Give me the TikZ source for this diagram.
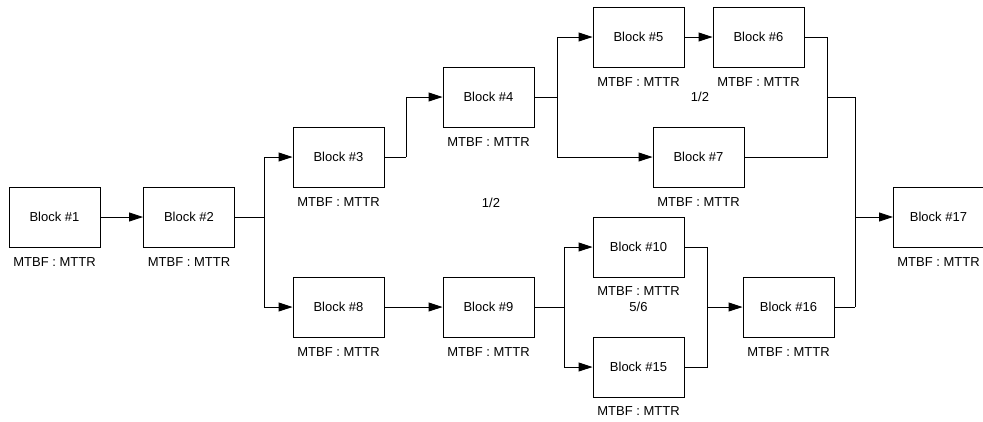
\documentclass[tikz,border=0pt]{standalone}
\usepackage{fontspec}
\setmainfont{Liberation Sans}
\usetikzlibrary{arrows.meta}
\begin{document}
\begin{tikzpicture}[x=1pt,y=-1pt,
  blk/.style={draw,line width=0.9pt,minimum width=91pt,minimum height=60pt,inner sep=0pt,font=\fontsize{13}{15}\selectfont},
  lbl/.style={inner sep=0pt,font=\fontsize{13}{15}\selectfont},
  wire/.style={line width=0.9pt},
  arr/.style={line width=0.9pt,-{Triangle[length=14pt,width=9pt]}}]
\useasboundingbox (0,0) rectangle (983,421);
\clip (0,0) rectangle (983,421);
% blocks
\node[blk] (b1) at (54.5,217) {Block \#1};
\node[blk] (b2) at (189,217) {Block \#2};
\node[blk] (b3) at (338.5,157) {Block \#3};
\node[blk] (b4) at (488.5,97) {Block \#4};
\node[blk] (b5) at (638.5,37) {Block \#5};
\node[blk] (b6) at (758.5,37) {Block \#6};
\node[blk] (b7) at (698.5,157) {Block \#7};
\node[blk] (b8) at (338.5,307) {Block \#8};
\node[blk] (b9) at (488.5,307) {Block \#9};
\node[blk] (b10) at (638.5,247) {Block \#10};
\node[blk] (b15) at (638.5,367) {Block \#15};
\node[blk] (b16) at (788.5,307) {Block \#16};
\node[blk,minimum width=110pt,anchor=west] (b17) at (893,217) {Block \#17\kern20pt};
% labels
\node[lbl] (m1) at (54.5,262) {MTBF : MTTR};
\node[lbl] (m2) at (189,262) {MTBF : MTTR};
\node[lbl] (m3) at (338.5,202) {MTBF : MTTR};
\node[lbl] (m4) at (488.5,142) {MTBF : MTTR};
\node[lbl] (m5) at (638.5,82) {MTBF : MTTR};
\node[lbl] (m6) at (758.5,82) {MTBF : MTTR};
\node[lbl] (m7) at (698.5,202) {MTBF : MTTR};
\node[lbl] (m8) at (338.5,352) {MTBF : MTTR};
\node[lbl] (m9) at (488.5,352) {MTBF : MTTR};
\node[lbl] (m10) at (638.5,291) {MTBF : MTTR};
\node[lbl] (m15) at (638.5,411) {MTBF : MTTR};
\node[lbl] (m16) at (788.5,352) {MTBF : MTTR};
\node[lbl] (m17) at (938.5,262) {MTBF : MTTR};
\node[lbl] (k1) at (491,203) {1/2};
\node[lbl] (k2) at (700,97) {1/2};
\node[lbl] (k3) at (638.5,307) {5/6};
% junction coordinates
\coordinate (j2) at (264,217);
\coordinate (j34) at (406,157);
\coordinate (j4) at (557,97);
\coordinate (j67) at (827,97);
\coordinate (j9) at (564,307);
\coordinate (j1015) at (707,307);
\coordinate (jr) at (855,217);
\coordinate (jrt) at (855,97);
\coordinate (jrb) at (855,307);
% connectors
\draw[arr] (b1) -- (b2);
\draw[wire] (b2.east) -- (j2);
\draw[arr] (j2) |- (b3.west);
\draw[arr] (j2) |- (b8.west);
\draw[wire] (b3.east) -- (j34);
\draw[arr] (j34) |- (b4.west);
\draw[wire] (b4.east) -- (j4);
\draw[arr] (j4) |- (b5.west);
\draw[arr] (j4) |- (b7.west);
\draw[arr] (b5) -- (b6);
\draw[wire] (b6.east) -| (j67);
\draw[wire] (b7.east) -| (j67);
\draw[wire] (j67) -- (jrt);
\draw[arr] (b8) -- (b9);
\draw[wire] (b9.east) -- (j9);
\draw[arr] (j9) |- (b10.west);
\draw[arr] (j9) |- (b15.west);
\draw[wire] (b10.east) -| (j1015);
\draw[wire] (b15.east) -| (j1015);
\draw[arr] (j1015) -- (b16.west);
\draw[wire] (b16.east) -- (jrb);
\draw[wire] (jrt) -- (jrb);
\draw[arr] (jr) -- (b17.west);
\end{tikzpicture}
\end{document}
